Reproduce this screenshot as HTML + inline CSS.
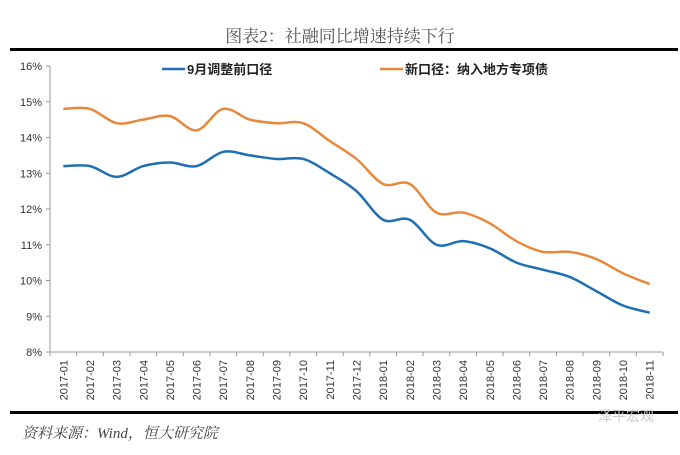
<!DOCTYPE html>
<html><head><meta charset="utf-8"><style>
body{margin:0;background:#fff;width:680px;height:450px;overflow:hidden;font-family:"Liberation Sans","Noto Sans CJK SC",sans-serif}
</style></head><body>
<svg width="680" height="450" xmlns="http://www.w3.org/2000/svg" id="chart">
<text x="340" y="42" text-anchor="middle" font-size="17" fill="#555" font-family="Liberation Serif,Noto Serif CJK SC,serif">图表2：社融同比增速持续下行</text>
<rect x="10" y="48" width="668" height="3" fill="#000"/>
<rect x="10" y="411" width="668" height="3" fill="#000"/>
<text x="22" y="438" font-size="15" font-style="italic" fill="#444" font-family="Liberation Serif,Noto Serif CJK SC,serif">资料来源：Wind，恒大研究院</text>
<text x="598" y="421" font-size="14" fill="#ccc">泽平宏观</text>
<g>
<g><line x1="162" y1="69" x2="185" y2="69" stroke="#1f6fb2" stroke-width="2.5"/><text x="187" y="74" font-size="13" font-weight="bold" fill="#222">9月调整前口径</text></g>
<g><line x1="380" y1="69" x2="403" y2="69" stroke="#e8883a" stroke-width="2.5"/><text x="405" y="74" font-size="13" font-weight="bold" fill="#222">新口径：纳入地方专项债</text></g>
</g>
<g id="axes"></g><g id="series"></g>
</svg>
<script>
const categories=["2017-01","2017-02","2017-03","2017-04","2017-05","2017-06","2017-07","2017-08","2017-09","2017-10","2017-11","2017-12","2018-01","2018-02","2018-03","2018-04","2018-05","2018-06","2018-07","2018-08","2018-09","2018-10","2018-11"];
const oldSeries=[13.2,13.2,12.9,13.2,13.3,13.2,13.6,13.5,13.4,13.4,13.0,12.5,11.7,11.7,11.0,11.1,10.9,10.5,10.3,10.1,9.7,9.3,9.1];
const newSeries=[14.8,14.8,14.4,14.5,14.6,14.2,14.8,14.5,14.4,14.4,13.9,13.4,12.7,12.7,11.9,11.9,11.6,11.1,10.8,10.8,10.6,10.2,9.9];
const yTicks=[8,9,10,11,12,13,14,15,16];
const NS="http://www.w3.org/2000/svg";
const L=50,R=663,T=66,B=352,yMin=8,yMax=16;
const band=(R-L)/categories.length;
const xs=i=>L+band*(i+0.5);
const ys=v=>B-(v-yMin)/(yMax-yMin)*(B-T);
function mk(tag,attrs,parent){const e=document.createElementNS(NS,tag);for(const k in attrs)e.setAttribute(k,attrs[k]);parent.appendChild(e);return e;}
const ax=document.getElementById('axes');
let e=mk('line',{x1:L,y1:T,x2:L,y2:B,stroke:'#999'},ax);


e=mk('line',{x1:L,y1:B,x2:R,y2:B,stroke:'#999'},ax);


yTicks.forEach(t=>{
 mk('line',{x1:L-4,y1:ys(t),x2:L,y2:ys(t),stroke:'#999'},ax);
 const tx=mk('text',{x:L-8,y:ys(t)+4,'text-anchor':'end','font-size':11,fill:'#333'},ax);
 tx.textContent=t+'%';
 
 
});
categories.forEach((c,i)=>{
 mk('line',{x1:L+band*i,y1:B,x2:L+band*i,y2:B+4,stroke:'#999'},ax);
 const x=xs(i)+4,y=B+8;
 const tx=mk('text',{x:x,y:y,'text-anchor':'end','font-size':11,fill:'#333',transform:`rotate(-90 ${x} ${y})`},ax);
 tx.textContent=c;
 
 
});
mk('line',{x1:R,y1:B,x2:R,y2:B+4,stroke:'#999'},ax);
function path(vals){
 const p=vals.map((v,i)=>[xs(i),ys(v)]);
 let d=`M${p[0][0]},${p[0][1]}`;
 for(let i=0;i<p.length-1;i++){
  const p0=p[Math.max(0,i-1)],p1=p[i],p2=p[i+1],p3=p[Math.min(p.length-1,i+2)];
  const c1=[p1[0]+(p2[0]-p0[0])/6,p1[1]+(p2[1]-p0[1])/6];
  const c2=[p2[0]-(p3[0]-p1[0])/6,p2[1]-(p3[1]-p1[1])/6];
  d+=` C${c1[0]},${c1[1]} ${c2[0]},${c2[1]} ${p2[0]},${p2[1]}`;
 }
 return d;
}
const sg=document.getElementById('series');
e=mk('path',{d:path(newSeries),fill:'none',stroke:'#e8883a','stroke-width':2.5},sg);


e=mk('path',{d:path(oldSeries),fill:'none',stroke:'#1f6fb2','stroke-width':2.5},sg);


</script>
</body></html>
